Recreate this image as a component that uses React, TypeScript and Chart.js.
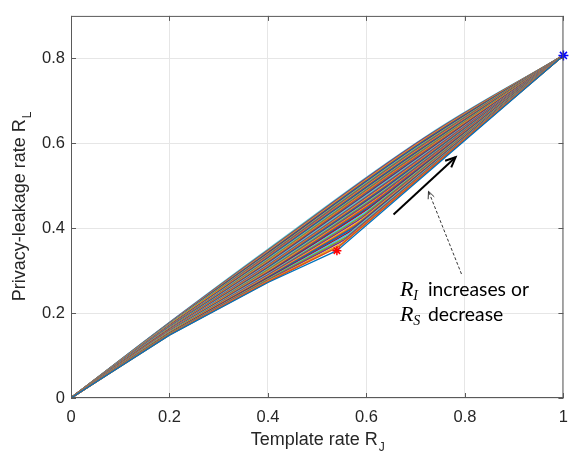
import React, { useEffect, useRef } from "react";
import { Chart, registerables } from "chart.js";

Chart.register(...registerables);

// ---- data ----
const originPoint = { x: 0, y: 0 };
const endPoint = { x: 1, y: 0.807 };
const redStar = { x: 0.54, y: 0.347 };
const firstBendX = 0.2;
const secondBendX = 0.4;

const curveY02 = [
  0.148, 0.149, 0.149, 0.15, 0.151, 0.151, 0.152, 0.152, 0.153, 0.154,
  0.154, 0.155, 0.156, 0.156, 0.157, 0.158, 0.158, 0.159, 0.159, 0.16,
  0.161, 0.161, 0.162, 0.163, 0.163, 0.164, 0.165, 0.165, 0.166, 0.167,
  0.167, 0.168, 0.168, 0.169, 0.17, 0.17, 0.171, 0.172, 0.172, 0.173,
  0.174, 0.174, 0.175, 0.175, 0.176, 0.177, 0.177, 0.178,
];
const curveY04 = [
  0.272, 0.274, 0.275, 0.277, 0.279, 0.28, 0.282, 0.284, 0.285, 0.287,
  0.289, 0.29, 0.292, 0.294, 0.295, 0.297, 0.299, 0.3, 0.302, 0.304,
  0.305, 0.307, 0.309, 0.31, 0.312, 0.313, 0.315, 0.317, 0.318, 0.32,
  0.322, 0.323, 0.325, 0.327, 0.328, 0.33, 0.332, 0.333, 0.335, 0.337,
  0.338, 0.34, 0.342, 0.343, 0.345, 0.347, 0.348, 0.35,
];
const kinkX = [
  0.54, 0.545, 0.551, 0.556, 0.562, 0.567, 0.572, 0.578, 0.583, 0.589,
  0.594, 0.599, 0.605, 0.609, 0.614, 0.618, 0.623, 0.627, 0.632, 0.635,
  0.639, 0.643, 0.646, 0.65, 0.653, 0.657, 0.661, 0.664, 0.668, 0.671,
  0.675, 0.679, 0.681, 0.684, 0.687, 0.689, 0.692, 0.695, 0.698, 0.7,
  0.703, 0.706, 0.708, 0.711, 0.714, 0.716, 0.718, 0.72,
];
const kinkY = [
  0.347, 0.357, 0.365, 0.373, 0.381, 0.389, 0.396, 0.404, 0.411, 0.419,
  0.427, 0.435, 0.443, 0.45, 0.457, 0.464, 0.47, 0.477, 0.484, 0.489,
  0.494, 0.5, 0.505, 0.51, 0.516, 0.521, 0.527, 0.532, 0.537, 0.543,
  0.548, 0.553, 0.557, 0.561, 0.565, 0.569, 0.573, 0.577, 0.582, 0.586,
  0.59, 0.594, 0.598, 0.602, 0.606, 0.61, 0.612, 0.615,
];

const xTicks = [0, 0.2, 0.4, 0.6, 0.8, 1];
const yTicks = [0, 0.2, 0.4, 0.6, 0.8];
const xRange = [0, 1];
const yRange = [0, 0.9];

const solidArrow = [
  { x: 0.655, y: 0.432 },
  { x: 0.781, y: 0.567 },
];
const dashedArrow = [
  { x: 0.793, y: 0.292 },
  { x: 0.726, y: 0.487 },
];
const noteAnchor = { x: 0.668, y: 0.241 };
const noteLines = [
  { main: "R", sub: "I", rest: "increases or" },
  { main: "R", sub: "S", rest: "decrease" },
];

const xTitle = { main: "Template rate R", sub: "J" };
const yTitle = { main: "Privacy-leakage rate R", sub: "L" };

const matlabColors = [
  "#0072BD",
  "#D95319",
  "#EDB120",
  "#7E2F8E",
  "#77AC30",
  "#4DBEEE",
  "#A2142F",
];

const SANS = '"Liberation Sans", Arial, Helvetica, sans-serif';
const SERIF = '"Liberation Serif", "Times New Roman", serif';
const NOTE_FONT = 'Lato, "Open Sans", sans-serif';

function drawArrow(
  ctx: CanvasRenderingContext2D,
  x0: number,
  y0: number,
  x1: number,
  y1: number,
  width: number,
  head: number,
  dash: number[]
) {
  ctx.save();
  ctx.strokeStyle = "#000";
  ctx.lineWidth = width;
  ctx.setLineDash(dash);
  ctx.beginPath();
  ctx.moveTo(x0, y0);
  ctx.lineTo(x1, y1);
  ctx.stroke();
  ctx.setLineDash([]);
  const ang = Math.atan2(y1 - y0, x1 - x0);
  const spread = 0.42;
  ctx.beginPath();
  ctx.moveTo(x1 - head * Math.cos(ang - spread), y1 - head * Math.sin(ang - spread));
  ctx.lineTo(x1, y1);
  ctx.lineTo(x1 - head * Math.cos(ang + spread), y1 - head * Math.sin(ang + spread));
  ctx.stroke();
  ctx.restore();
}

const overlayPlugin = {
  id: "overlay",
  afterDraw(chart: any) {
    const { ctx, chartArea: a, scales } = chart;
    const xs = scales.x;
    const ys = scales.y;
    ctx.save();

    // axes box
    ctx.strokeStyle = "#5a5a5a";
    ctx.lineWidth = 1;
    ctx.strokeRect(a.left + 0.5, a.top + 0.5, a.right - a.left - 1, a.bottom - a.top - 1);

    // inward ticks on all four sides
    const tl = 5;
    ctx.beginPath();
    xTicks.forEach((v) => {
      const px = Math.round(xs.getPixelForValue(v)) + 0.5;
      ctx.moveTo(px, a.bottom);
      ctx.lineTo(px, a.bottom - tl);
      ctx.moveTo(px, a.top);
      ctx.lineTo(px, a.top + tl);
    });
    yTicks.forEach((v) => {
      const py = Math.round(ys.getPixelForValue(v)) + 0.5;
      ctx.moveTo(a.left, py);
      ctx.lineTo(a.left + tl, py);
      ctx.moveTo(a.right, py);
      ctx.lineTo(a.right - tl, py);
    });
    ctx.stroke();

    // axis titles with subscripts
    ctx.fillStyle = "#262626";
    ctx.textBaseline = "alphabetic";
    ctx.textAlign = "left";
    ctx.font = `18px ${SANS}`;
    const xw = ctx.measureText(xTitle.main).width;
    ctx.font = `12px ${SANS}`;
    const xsw = ctx.measureText(xTitle.sub).width;
    const xcx = (a.left + a.right) / 2;
    const xStart = xcx - (xw + xsw) / 2;
    ctx.font = `18px ${SANS}`;
    ctx.fillText(xTitle.main, xStart, 445);
    ctx.font = `12px ${SANS}`;
    ctx.fillText(xTitle.sub, xStart + xw + 1, 451);

    ctx.save();
    ctx.translate(25, (a.top + a.bottom) / 2);
    ctx.rotate(-Math.PI / 2);
    ctx.font = `18px ${SANS}`;
    const yw = ctx.measureText(yTitle.main).width;
    ctx.font = `12px ${SANS}`;
    const ysw = ctx.measureText(yTitle.sub).width;
    const yStart = -(yw + ysw) / 2;
    ctx.font = `18px ${SANS}`;
    ctx.fillText(yTitle.main, yStart, 0);
    ctx.font = `12px ${SANS}`;
    ctx.fillText(yTitle.sub, yStart + yw + 1, 6);
    ctx.restore();

    // arrows
    drawArrow(
      ctx,
      xs.getPixelForValue(solidArrow[0].x),
      ys.getPixelForValue(solidArrow[0].y),
      xs.getPixelForValue(solidArrow[1].x),
      ys.getPixelForValue(solidArrow[1].y),
      2,
      11,
      []
    );
    drawArrow(
      ctx,
      xs.getPixelForValue(dashedArrow[0].x),
      ys.getPixelForValue(dashedArrow[0].y),
      xs.getPixelForValue(dashedArrow[1].x),
      ys.getPixelForValue(dashedArrow[1].y),
      0.8,
      8,
      [3, 2]
    );

    // note text
    ctx.fillStyle = "#000";
    ctx.font = `18px ${NOTE_FONT}`;
    const refW = ctx.measureText(noteLines[0].rest).width;
    const noteSize = (18 * 101) / refW;
    const nx = xs.getPixelForValue(noteAnchor.x);
    let ny = ys.getPixelForValue(noteAnchor.y);
    noteLines.forEach((ln) => {
      ctx.font = `italic 22px ${SERIF}`;
      ctx.fillText(ln.main, nx, ny);
      const rw = ctx.measureText(ln.main).width;
      ctx.font = `italic 14px ${SERIF}`;
      ctx.fillText(ln.sub, nx + rw, ny + 4);
      ctx.font = `${noteSize}px ${NOTE_FONT}`;
      ctx.fillText(ln.rest, nx + 28, ny);
      ny += 25;
    });

    ctx.restore();
  },
};

function buildDatasets() {
  const sets: any[] = [];
  sets.push({
    label: "end",
    data: [endPoint],
    showLine: false,
    pointStyle: "star",
    pointRadius: 5,
    borderColor: "#0000ff",
    backgroundColor: "#0000ff",
    borderWidth: 1.5,
    clip: false,
  });
  sets.push({
    label: "corner",
    data: [redStar],
    showLine: false,
    pointStyle: "star",
    pointRadius: 4.5,
    borderColor: "#ff0000",
    backgroundColor: "#ff0000",
    borderWidth: 1.5,
    clip: false,
  });
  const n = kinkX.length;
  for (let k = 0; k < n; k++) {
    const c = matlabColors[k % matlabColors.length];
    sets.push({
      label: "c" + k,
      data: [
        originPoint,
        { x: firstBendX, y: curveY02[k] },
        { x: secondBendX, y: curveY04[k] },
        { x: kinkX[k], y: kinkY[k] },
        endPoint,
      ],
      showLine: true,
      borderColor: c,
      backgroundColor: c,
      borderWidth: k === 0 ? 1.3 : 1.6,
      pointRadius: 0,
      cubicInterpolationMode: "default",
      tension: (0.4 * k) / (n - 1),
      fill: false,
    });
  }
  return sets;
}

export default function App() {
  const ref = useRef<HTMLCanvasElement>(null);
  useEffect(() => {
    const chart = new Chart(ref.current as HTMLCanvasElement, {
      type: "line",
      data: { datasets: buildDatasets() },
      options: {
        responsive: false,
        animation: false,
        devicePixelRatio: 1,
        layout: { padding: { left: 0, top: 13, right: 10, bottom: 0 } },
        plugins: {
          legend: { display: false },
          tooltip: { enabled: false },
          title: { display: false },
        },
        scales: {
          x: {
            type: "linear",
            min: xRange[0],
            max: xRange[1],
            afterBuildTicks: (s: any) => {
              s.ticks = xTicks.map((v) => ({ value: v }));
            },
            afterFit: (s: any) => {
              s.height = 59;
            },
            grid: { color: "#e6e6e6", lineWidth: 1, drawTicks: false },
            border: { display: false },
            ticks: {
              color: "#262626",
              font: { family: SANS, size: 16.5 },
              padding: 10,
              maxRotation: 0,
              callback: (v: any) => String(Number(Number(v).toFixed(1))),
            },
          },
          y: {
            type: "linear",
            min: yRange[0],
            max: yRange[1],
            afterBuildTicks: (s: any) => {
              s.ticks = yTicks.map((v) => ({ value: v }));
            },
            afterFit: (s: any) => {
              s.width = 71;
            },
            grid: { color: "#e6e6e6", lineWidth: 1, drawTicks: false },
            border: { display: false },
            ticks: {
              color: "#262626",
              font: { family: SANS, size: 16.5 },
              padding: 6,
              callback: (v: any) => String(Number(Number(v).toFixed(1))),
            },
          },
        },
      },
      plugins: [overlayPlugin],
    } as any);
    return () => chart.destroy();
  }, []);
  return (
    <div
      style={{
        position: "absolute",
        left: 0,
        top: 0,
        width: 578,
        height: 457,
        background: "#fff",
      }}
    >
      <canvas
        ref={ref}
        width={578}
        height={457}
        style={{ display: "block", width: 578, height: 457 }}
      />
    </div>
  );
}
